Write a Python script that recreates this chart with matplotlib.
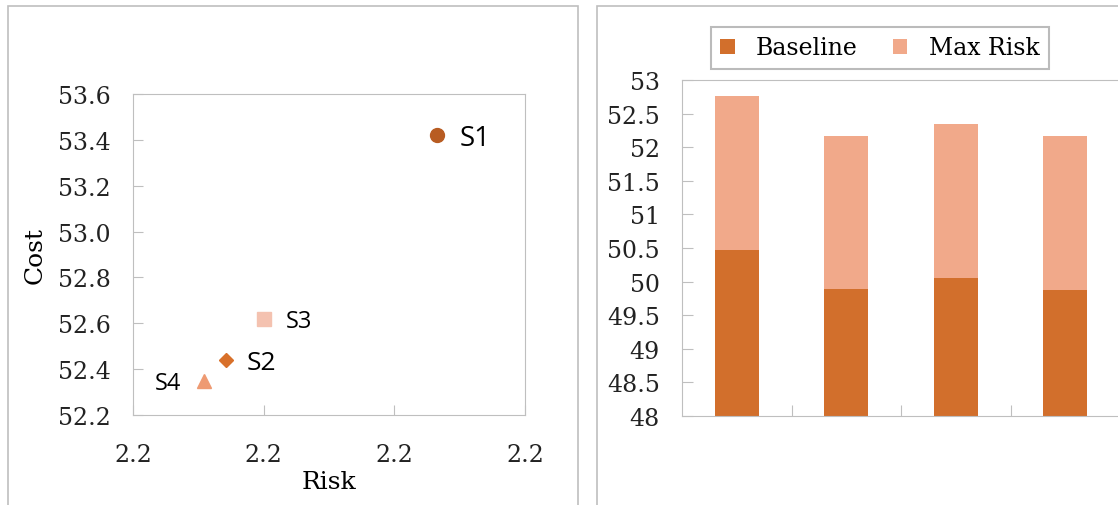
import numpy as np
import matplotlib.pyplot as plt
from matplotlib.patches import Rectangle
from matplotlib.ticker import FormatStrFormatter

# scatter: risk vs cost per strategy
names = ['S1', 'S2', 'S3', 'S4']
risk = [2.200233, 2.200071, 2.200100, 2.200054]
cost = [53.42, 52.44, 52.62, 52.35]
markers = ['o', 'D', 's', '^']
mcolors = ['#B85C22', '#D8702A', '#F4C2B0', '#EE9A72']
risk_ticks = [2.2000, 2.2001, 2.2002, 2.2003]
cost_ticks = [52.2, 52.4, 52.6, 52.8, 53.0, 53.2, 53.4, 53.6]

# stacked bars
baseline = [50.47, 49.89, 50.05, 49.87]
max_risk = [2.29, 2.28, 2.29, 2.29]
bar_ticks = [48, 48.5, 49, 49.5, 50, 50.5, 51, 51.5, 52, 52.5, 53]

GREY = '#BFBFBF'
SERIF = 'DejaVu Serif'

fig = plt.figure(figsize=(11.18, 5.06), dpi=100)
W, H = 1118, 506

# panel frames
fig.patches.append(Rectangle((8 / W, -0.02), 570 / W, 1 - 7 / H + 0.02,
                             transform=fig.transFigure, fill=False,
                             edgecolor=GREY, lw=1.2))
fig.patches.append(Rectangle((597 / W, -0.02), 540 / W, 1 - 7 / H + 0.02,
                             transform=fig.transFigure, fill=False,
                             edgecolor=GREY, lw=1.2))

# ---- left: scatter ----
ax1 = fig.add_axes([133 / W, 1 - 416 / H, (525 - 133) / W, (416 - 95) / H])
for n, x, y, m, c in zip(names, risk, cost, markers, mcolors):
    size = 10 if m != 'D' else 7.5
    ax1.plot(x, y, marker=m, color=c, markersize=size, linestyle='none')
ax1.set_xlim(risk_ticks[0], risk_ticks[-1])
ax1.set_ylim(52.2, 53.6)
ax1.set_xticks(risk_ticks)
ax1.set_yticks(cost_ticks)
ax1.xaxis.set_major_formatter(FormatStrFormatter('%.1f'))
ax1.yaxis.set_major_formatter(FormatStrFormatter('%.1f'))

lbl = dict(family='Open Sans', va='center')
ax1.annotate('S1', (risk[0], cost[0]), xytext=(16, -2), textcoords='offset points', fontsize=20, **lbl)
ax1.annotate('S2', (risk[1], cost[1]), xytext=(15, -2), textcoords='offset points', fontsize=19, **lbl)
ax1.annotate('S3', (risk[2], cost[2]), xytext=(16, -2), textcoords='offset points', fontsize=17, **lbl)
ax1.annotate('S4', (risk[3], cost[3]), xytext=(-16, -2), textcoords='offset points', fontsize=17,
             ha='right', **lbl)

ax1.set_xlabel('Risk', family=SERIF, fontsize=18, labelpad=3)
ax1.set_ylabel('Cost', family=SERIF, fontsize=18, labelpad=8)
for sp in ax1.spines.values():
    sp.set_color(GREY)
ax1.tick_params(axis='both', direction='in', colors=GREY, length=7, labelcolor='#222222',
                labelsize=17)
ax1.tick_params(axis='y', pad=16)
ax1.tick_params(axis='x', pad=20)
for t in ax1.get_xticklabels() + ax1.get_yticklabels():
    t.set_family(SERIF)

# ---- right: stacked bars ----
ax2 = fig.add_axes([682 / W, 1 - 417 / H, (1120 - 682) / W, (417 - 81) / H])
x = np.arange(len(baseline))
ax2.bar(x, np.array(baseline) - 48, bottom=48, width=0.4, color='#D26F2C', label='Baseline')
ax2.bar(x, max_risk, bottom=baseline, width=0.4, color='#F1A98A', label='Max Risk')
ax2.set_xlim(-0.5, 3.5)
ax2.set_ylim(48, 53)
ax2.set_yticks(bar_ticks)
ax2.yaxis.set_major_formatter(FormatStrFormatter('%g'))
ax2.set_xticks([0.5, 1.5, 2.5])
ax2.set_xticklabels([])
for sp in ax2.spines.values():
    sp.set_color(GREY)
ax2.tick_params(axis='both', direction='in', colors=GREY, length=8, labelcolor='#222222',
                labelsize=17)
ax2.tick_params(axis='y', pad=16)
for t in ax2.get_yticklabels():
    t.set_family(SERIF)

leg = ax2.legend(loc='upper left', bbox_to_anchor=((711 - 682) / (1120 - 682), 1 + (81 - 28) / 336),
                 ncol=2, frameon=True, fancybox=False, prop={'family': SERIF, 'size': 17},
                 handlelength=0.6, handleheight=0.6, columnspacing=1.5, handletextpad=0.9,
                 borderpad=0.4, borderaxespad=0)
leg.get_frame().set_edgecolor('#AAAAAA')
leg.get_frame().set_linewidth(1.5)

fig.savefig('out.png', dpi=100)
